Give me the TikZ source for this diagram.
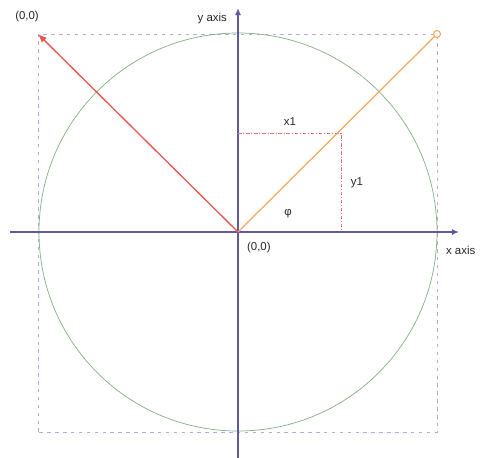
\documentclass[tikz,border=0pt]{standalone}
\usepackage{fontspec}
\setmainfont{Liberation Sans}
\usetikzlibrary{arrows.meta}

\definecolor{axiscol}{HTML}{6357A0}
\definecolor{redcol}{HTML}{E8564E}
\definecolor{orangecol}{HTML}{F4A65E}
\definecolor{greencol}{HTML}{86AE86}
\definecolor{boxcol}{HTML}{B4ACDC}
\definecolor{dotcol}{HTML}{E8707E}

\begin{document}
\begin{tikzpicture}[x=0.02cm, y=0.02cm,
        every node/.style={font=\fontsize{6.5}{7}\selectfont, inner sep=1pt},
        axis/.style={draw=axiscol, line width=0.9pt, -{Latex[length=4pt,width=3.5pt]}},
        frame/.style={draw=boxcol, line width=0.5pt, dash pattern=on 2pt off 2.5pt},
        helper/.style={draw=dotcol, line width=0.5pt, dash pattern=on 2pt off 1pt on 0.6pt off 1pt},
        label/.style={text=black!85},
    ]
        \useasboundingbox (-238,-225) rectangle (248,232);

        % points
        \coordinate (O) at (0,0);
        \coordinate (A) at (-200,198);
        \coordinate (B) at (199,198);
        \coordinate (P) at (103,99);
        \coordinate (Px) at (0,99);
        \coordinate (Py) at (103,0);
        \coordinate (xs) at (-228,0);
        \coordinate (xe) at (221,0);
        \coordinate (ys) at (0,-226);
        \coordinate (ye) at (0,224);

        \draw[frame] (-200,-200) rectangle (B);
        \draw[draw=greencol, line width=0.4pt] (O) circle (199);

        \draw[axis] (xs) -- (xe);
        \draw[axis] (ys) -- (ye);

        \draw[helper] (Px) -- (P) -- (Py);

        \draw[draw=redcol, line width=0.75pt, -{Latex[length=5pt,width=4pt]}] (O) -- (A);
        \draw[draw=orangecol, line width=0.7pt] (O) -- (B);
        \node[draw=orangecol, fill=white, circle, line width=0.6pt, minimum size=4pt, inner sep=0pt] (end) at (B) {};

        \node[label] (topleft) at (-211,215) {(0,0)};
        \node[label, anchor=east] (ylab) at (-9,213) {y axis};
        \node[label, anchor=west] (xlab) at (206,-18) {x axis};
        \node[label, anchor=west] (origin) at (7,-16) {(0,0)};
        \node[label] (x1) at (52,110) {x1};
        \node[label] (y1) at (119,49) {y1};
        \node[label] (phi) at (50,18) {φ};

    \end{tikzpicture}
\end{document}
